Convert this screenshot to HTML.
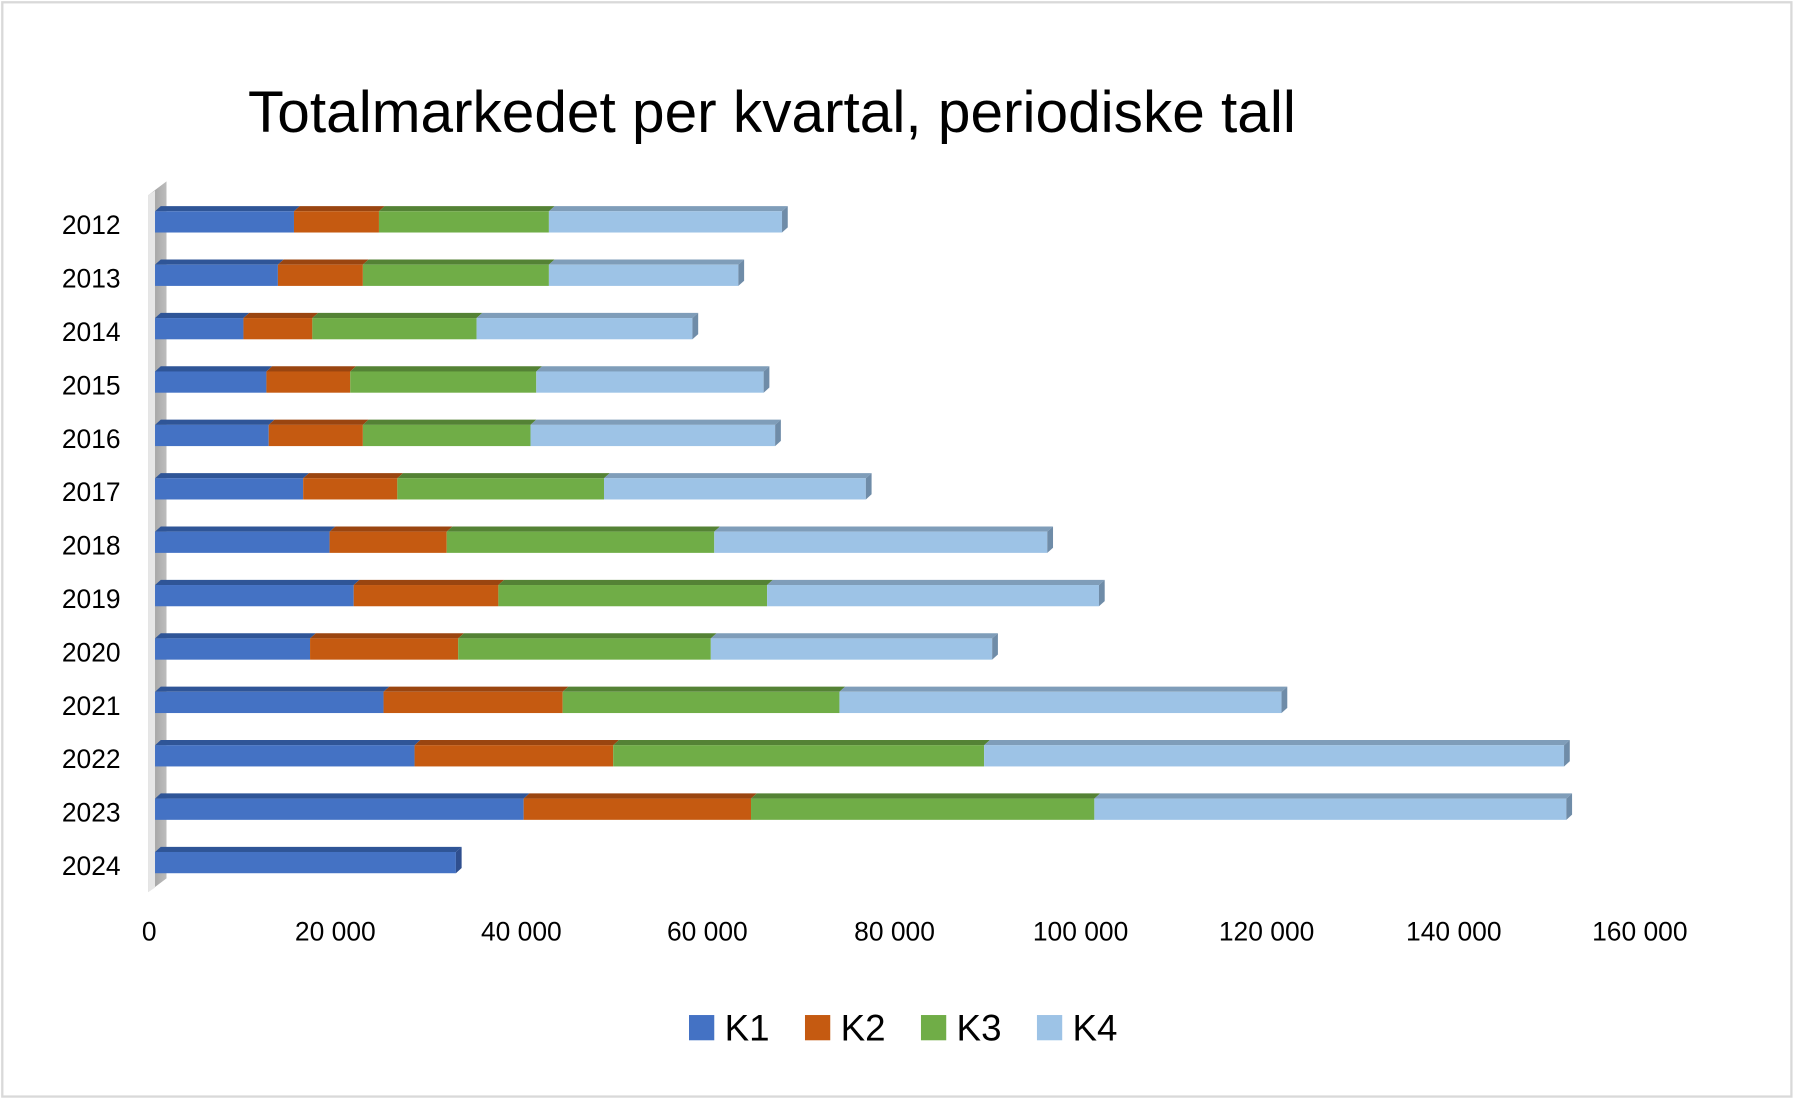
<!DOCTYPE html>
<html><head><meta charset="utf-8"><style>
html,body{margin:0;padding:0;background:#fff}
svg{display:block}
text{font-family:"Liberation Sans",sans-serif;fill:#000}
</style></head><body>
<svg width="1796" height="1100" viewBox="0 0 1564 958" preserveAspectRatio="none" xmlns="http://www.w3.org/2000/svg">
<defs>
<linearGradient id="wall" x1="0" x2="1" y1="0" y2="0">
<stop offset="0" stop-color="#d0d0d0"/><stop offset="0.4" stop-color="#a8a8a8"/><stop offset="1" stop-color="#bdbdbd"/></linearGradient>
</defs>
<rect x="2" y="2" width="1558" height="953" fill="#fff" stroke="#d9d9d9" stroke-width="2"/>
<text x="216" y="115" font-size="51">Totalmarkedet per kvartal, periodiske tall</text>
<polygon points="129,170 145,158 145,765 129,777" fill="url(#wall)"/>
<polygon points="129,170 135,166 135,773 129,777" fill="#e6e6e6"/>
<g id="bars"></g>
<g font-size="23" text-anchor="end" id="ylab"></g>
<g font-size="23" text-anchor="middle">
<text x="130" y="819">0</text><text x="292" y="819">20 000</text><text x="454" y="819">40 000</text><text x="616" y="819">60 000</text><text x="779" y="819">80 000</text><text x="941" y="819">100 000</text><text x="1103" y="819">120 000</text><text x="1266" y="819">140 000</text><text x="1428" y="819">160 000</text>
</g>
<g font-size="32">
<rect x="600" y="884" width="22" height="22" fill="#4472C4"/><text x="631" y="906">K1</text>
<rect x="701" y="884" width="22" height="22" fill="#C55A11"/><text x="732" y="906">K2</text>
<rect x="802" y="884" width="22" height="22" fill="#70AD47"/><text x="833" y="906">K3</text>
<rect x="903" y="884" width="22" height="22" fill="#9DC3E6"/><text x="934" y="906">K4</text>
</g>
</svg>
<script>
(function(){
const rows=[[2012,[256,330,478,681]],[2013,[242,316,478,643]],[2014,[212,272,415,603]],[2015,[232,305,467,665]],[2016,[234,316,462,675]],[2017,[264,346,526,754]],[2018,[287,389,622,912]],[2019,[308,434,668,957]],[2020,[270,399,619,864]],[2021,[334,490,731,1116]],[2022,[361,534,857,1362]],[2023,[456,654,953,1364]],[2024,[397]]];
const fc=["#4472C4","#C55A11","#70AD47","#9DC3E6"],tc=["#2F5597","#9A4510","#548235","#7F9DB9"],sc=["#2F4F8F","#8A3E0E","#4A7230","#6F8CA8"];
const g=document.getElementById("bars"),yl=document.getElementById("ylab");let h="",t="";
rows.forEach((r,i)=>{const y=184+46.5*i,H=18.5,d=5,dy=4.5;let x0=135;
r[1].forEach((x1,j)=>{h+=`<polygon points="${x0},${y} ${x0+d},${y-dy} ${x1+d},${y-dy} ${x1},${y}" fill="${tc[j]}"/>`;
h+=`<rect x="${x0}" y="${y}" width="${x1-x0}" height="${H}" fill="${fc[j]}"/>`;
if(j==r[1].length-1)h+=`<polygon points="${x1},${y} ${x1+d},${y-dy} ${x1+d},${y+H-dy} ${x1},${y+H}" fill="${sc[j]}"/>`;x0=x1;});
t+=`<text x="105" y="${y+20}">${r[0]}</text>`;});
g.innerHTML=h;yl.innerHTML=t;
})();
</script>
</body></html>
